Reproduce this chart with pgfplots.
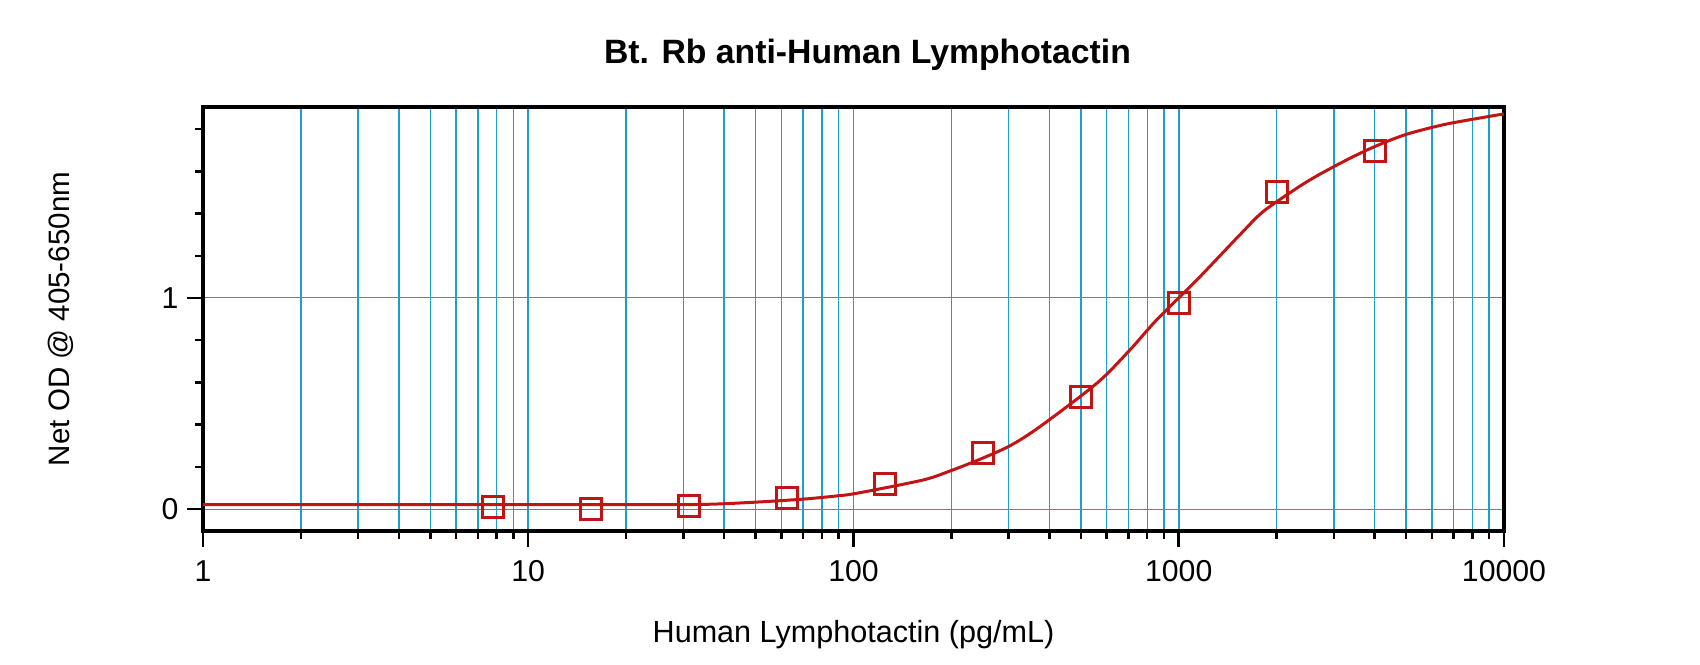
\documentclass[border=0pt]{standalone}
\usepackage{fontspec}
\setmainfont{Liberation Sans}
\usepackage{pgfplots}
\pgfplotsset{compat=1.18}

\definecolor{gridblue}{RGB}{25,160,210}
\definecolor{curvered}{RGB}{195,20,20}

\begin{document}
\begin{tikzpicture}
\begin{axis}[
    scale only axis,
    width=130.1mm, height=42.4mm,
    xmode=log,
    xmin=1, xmax=10000,
    ymin=-0.104, ymax=1.905,
    xtick={1,10,100,1000,10000},
    xticklabels={1,10,100,1000,10000},
    minor xtick={2,3,...,9,20,30,...,90,200,300,...,900,2000,3000,...,9000},
    ytick={0,1},
    yticklabels={0,1},
    minor ytick={0.2,0.4,0.6,0.8,1.2,1.4,1.6,1.8},
    xtick pos=left, ytick pos=left,
    tick align=outside,
    major tick length=1.6mm,
    minor tick length=0.8mm,
    tick style={black, line width=0.25mm},
    axis line style={line width=0.4mm},
    xmajorgrids, xminorgrids, ymajorgrids,
    major x grid style={gridblue, line width=0.18mm},
    minor x grid style={gridblue, line width=0.14mm},
    major y grid style={gridblue, line width=0.1mm},
    tick label style={font=\fontsize{8.6}{10}\selectfont, inner sep=0pt},
    xticklabel style={anchor=north, yshift=-1.3mm},
    yticklabel style={anchor=east, xshift=-0.8mm},
    title={Bt. Rb anti-Human Lymphotactin},
    title style={at={(axis description cs:0.5,1)}, anchor=base,
        yshift=2.2mm, xshift=1.4mm, font=\bfseries\fontsize{9.6}{11}\selectfont},
    xlabel={Human Lymphotactin (pg/mL)},
    xlabel style={at={(axis description cs:0.5,0)}, anchor=base,
        yshift=-11.2mm, font=\fontsize{8.7}{10}\selectfont},
    ylabel={Net OD @ 405-650nm},
    ylabel style={at={([xshift=-14.2mm]axis description cs:0,0.5)}, anchor=center,
        font=\fontsize{8.4}{10}\selectfont},
]

% fitted curve
\addplot[curvered, line width=0.3mm, smooth] coordinates {
    (1,0.021) (5,0.021) (10,0.021) (20,0.021) (34.5,0.022) (49.2,0.032)
    (70.1,0.047) (88.8,0.062) (100,0.072) (132.5,0.108) (168,0.142)
    (198,0.180) (245,0.236) (303,0.300) (374,0.390) (560,0.596)
    (708,0.754) (855,0.896) (1136,1.085) (1543,1.300) (1820,1.410)
    (2306,1.520) (2655,1.578) (3283,1.654) (4000,1.717) (5000,1.775)
    (6560,1.822) (8600,1.855) (10000,1.872)
};

% standards
\addplot[only marks, mark=square, mark size=1.05mm, curvered,
    mark options={line width=0.3mm}] coordinates {
    (7.8,0.012) (15.6,0.000) (31.25,0.014) (62.5,0.050) (125,0.118)
    (250,0.264) (500,0.529) (1000,0.975) (2000,1.502) (4000,1.698)
};

\end{axis}
\pgfresetboundingbox
\useasboundingbox (-20.3mm,-13.4mm) rectangle (149.7mm,53.1mm);
\end{tikzpicture}
\end{document}
